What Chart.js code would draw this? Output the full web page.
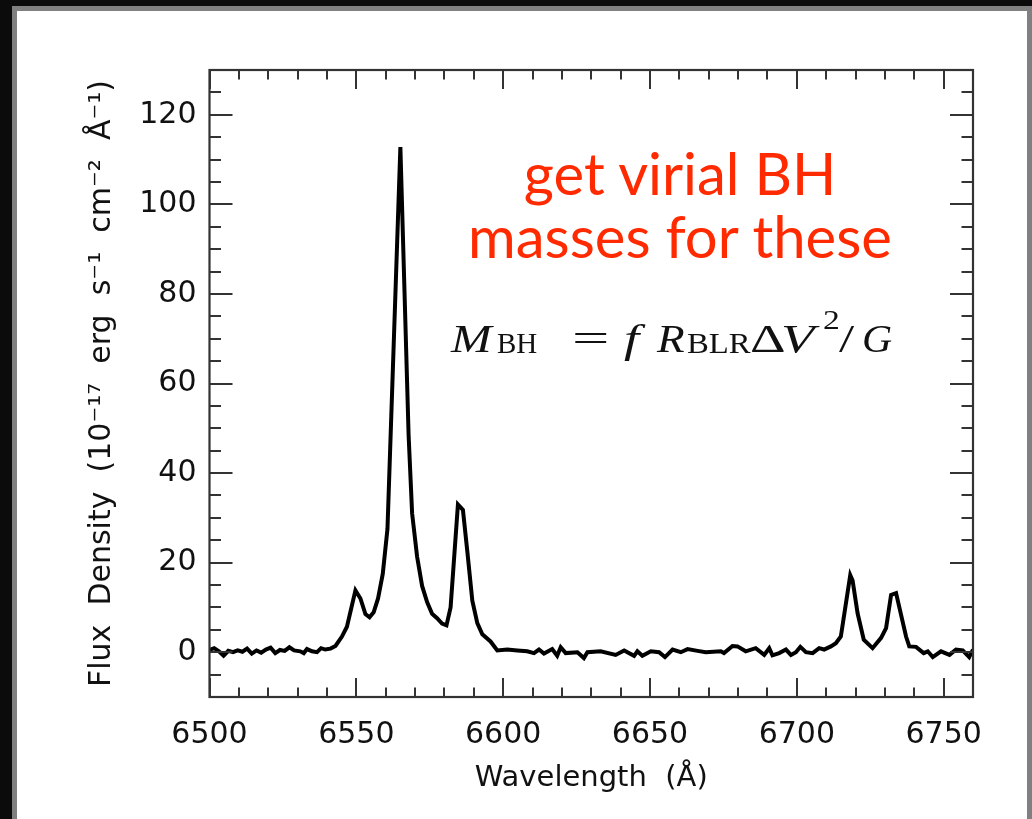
<!DOCTYPE html>
<html><head><meta charset="utf-8">
<script src="https://cdn.jsdelivr.net/npm/chart.js@4.4.1/dist/chart.umd.min.js"></script>
<style>
html,body{margin:0;padding:0;width:1032px;height:819px;overflow:hidden;background:#0b0b0b;}
#panel{position:absolute;left:12px;top:6px;width:1020px;height:813px;border:5px solid #808080;border-bottom:none;background:#fff;box-sizing:border-box;}
#c{position:absolute;left:0;top:0;}
.red{position:absolute;left:380px;width:600px;text-align:center;color:#ff2a00;font-family:Lato,"Open Sans",sans-serif;font-size:58px;line-height:58px;white-space:nowrap;}
.f{position:absolute;font-family:"Liberation Serif","DejaVu Serif",serif;color:#111;white-space:nowrap;transform-origin:left top;}
.m{font-size:39px;line-height:39px;top:319px;}
.sb{font-size:29px;line-height:29px;top:329px;}
.sp{font-size:28px;line-height:28px;top:306px;}
</style></head>
<body>
<div id="panel"></div>
<canvas id="c" width="1032" height="819"></canvas>
<div class="red" style="top:144px">get virial BH</div>
<div class="red" style="top:207px">masses for these</div>
<span class="f m" style="left:451px;transform:scaleX(1.25)"><i>M</i></span>
<span class="f sb" style="left:497px">BH</span>
<span class="f m" style="left:572px;transform:scaleX(1.7)">=</span>
<span class="f m" style="left:624px;transform:scaleX(1.4)"><i>f</i></span>
<span class="f m" style="left:657px;transform:scaleX(1.16)"><i>R</i></span>
<span class="f sb" style="left:687px;transform:scaleX(1.13)">BLR</span>
<span class="f m" style="left:750px;transform:scaleX(1.42)">Δ</span>
<span class="f m" style="left:781px;transform:scaleX(1.4)"><i>V</i></span>
<span class="f sp" style="left:823px;transform:scaleX(1.2)">2</span>
<span class="f m" style="left:839px;transform:scaleX(1.4)">/</span>
<span class="f m" style="left:862px;transform:scaleX(1.07)"><i>G</i></span>
<script>
// ---- data ----
const wavelengths = [
 6500.0,6501.6,6503.2,6504.8,6506.4,6508.0,6509.6,6511.2,6512.8,6514.4,
 6516.0,6517.6,6519.2,6520.8,6522.4,6524.0,6525.6,6527.2,6528.8,6530.9,
 6532.1,6533.2,6534.9,6536.6,6538.0,6539.4,6541.2,6542.9,6545.1,6546.8,
 6549.7,6551.4,6553.1,6554.5,6555.9,6557.4,6559.0,6560.6,6565.0,6567.8,
 6569.0,6570.7,6572.4,6574.1,6575.8,6577.5,6579.2,6580.7,6582.1,6584.6,
 6586.3,6587.8,6589.5,6591.2,6592.9,6595.7,6598.0,6601.4,6604.8,6608.2,
 6610.5,6612.2,6613.9,6616.7,6618.4,6619.6,6621.3,6625.3,6627.5,6628.7,
 6633.2,6638.3,6641.2,6644.6,6645.7,6647.4,6650.3,6653.1,6655.1,6657.7,
 6660.5,6662.8,6666.2,6669.0,6674.1,6675.2,6678.1,6679.8,6682.6,6686.0,
 6688.9,6690.6,6691.7,6694.0,6696.3,6698.0,6699.7,6701.2,6703.1,6705.4,
 6707.6,6709.3,6711.6,6713.3,6715.0,6718.2,6719.0,6720.7,6722.8,6725.8,
 6728.7,6730.4,6732.1,6733.8,6737.2,6738.3,6740.6,6743.2,6744.6,6746.3,
 6749.1,6752.0,6754.2,6756.5,6758.7,6760.0
];
const flux = [
 0.5,0.9,0.2,-0.8,0.3,0.0,0.4,0.1,0.8,-0.3,
 0.4,-0.1,0.6,1.0,-0.2,0.5,0.3,1.1,0.4,0.2,
 -0.2,0.7,0.2,0.0,0.9,0.6,0.8,1.4,3.5,5.7,
 13.8,12.0,8.5,7.8,8.9,12.0,17.5,27.5,112.8,48.5,
 31.0,21.3,14.8,11.2,8.6,7.6,6.4,6.0,10.0,33.0,
 31.8,22.5,11.5,6.5,4.0,2.4,0.4,0.6,0.4,0.2,
 -0.2,0.6,-0.3,0.7,-0.8,1.1,-0.2,0.0,-1.3,0.0,
 0.2,-0.6,0.4,-0.8,0.2,-0.8,0.2,0.0,-1.1,0.6,
 0.0,0.7,0.3,0.0,0.2,-0.2,1.4,1.3,0.2,0.9,
 -0.6,0.9,-0.7,-0.2,0.6,-0.6,0.0,1.2,0.0,-0.2,
 0.9,0.6,1.3,2.0,3.5,17.2,16.0,8.7,2.8,0.9,
 3.2,5.4,12.8,13.2,3.5,1.3,1.2,-0.2,0.2,-1.1,
 0.2,-0.6,0.6,0.4,-1.1,0.6
];
const xTickLabels = [6500,6550,6600,6650,6700,6750];
const yTickLabels = [0,20,40,60,80,100,120];
const xRange = [6500,6760];
const yRange = [-10,130];
const xMinorStep = 10;
const yMinorStep = 5;

const FONT = "'DejaVu Sans', sans-serif";
const AXIS = '#333';

const inwardTicks = {
  id: 'inwardTicks',
  afterDraw(chart) {
    const {ctx, chartArea: a, scales: {x, y}} = chart;
    ctx.save();
    ctx.strokeStyle = AXIS;
    ctx.lineWidth = 2;
    ctx.beginPath();
    for (let v = xRange[0]; v <= xRange[1] + 1e-6; v += xMinorStep) {
      const px = Math.round(x.getPixelForValue(v));
      const L = xTickLabels.includes(v) ? 19 : 9.5;
      ctx.moveTo(px, a.bottom); ctx.lineTo(px, a.bottom - L);
      ctx.moveTo(px, a.top); ctx.lineTo(px, a.top + L);
    }
    for (let v = yRange[0]; v <= yRange[1] + 1e-6; v += yMinorStep) {
      const py = Math.round(y.getPixelForValue(v));
      const L = yTickLabels.includes(v) ? 23 : 11.5;
      ctx.moveTo(a.left, py); ctx.lineTo(a.left + L, py);
      ctx.moveTo(a.right, py); ctx.lineTo(a.right - L, py);
    }
    ctx.stroke();
    ctx.lineWidth = 2.2;
    ctx.strokeRect(a.left, a.top, a.right - a.left, a.bottom - a.top);
    ctx.restore();
  }
};

new Chart(document.getElementById('c'), {
  type: 'line',
  data: {
    datasets: [{
      data: wavelengths.map((w, i) => ({x: w, y: flux[i]})),
      borderColor: '#000',
      borderWidth: 4,
      pointRadius: 0,
      tension: 0,
      fill: false
    }]
  },
  options: {
    responsive: false,
    animation: false,
    devicePixelRatio: 1,
    layout: {padding: {left: 0, right: 59, top: 70, bottom: 20}},
    plugins: {legend: {display: false}, tooltip: {enabled: false}},
    scales: {
      x: {
        type: 'linear', min: xRange[0], max: xRange[1],
        afterBuildTicks: s => { s.ticks = xTickLabels.map(v => ({value: v})); },
        afterFit: s => { s.height = 102; },
        grid: {display: false, drawTicks: false},
        border: {display: false},
        ticks: {padding: 20, color: '#111', font: {family: FONT, size: 30}, maxRotation: 0, autoSkip: false, callback: v => String(v)},
        title: {display: true, text: 'Wavelength  (Å)', color: '#111', font: {family: FONT, size: 29}, padding: {top: 0, bottom: 3}}
      },
      y: {
        type: 'linear', min: yRange[0], max: yRange[1],
        afterBuildTicks: s => { s.ticks = yTickLabels.map(v => ({value: v})); },
        afterFit: s => { s.width = 209.5; },
        grid: {display: false, drawTicks: false},
        border: {display: false},
        ticks: {padding: 13, color: '#111', font: {family: FONT, size: 30}, callback: v => String(v)},
        title: {display: true, text: 'Flux  Density  (10⁻¹⁷  erg  s⁻¹  cm⁻²  Å⁻¹)', color: '#111', font: {family: FONT, size: 30}, padding: {top: 84, bottom: 0}}
      }
    }
  },
  plugins: [inwardTicks]
});
</script>
</body></html>
